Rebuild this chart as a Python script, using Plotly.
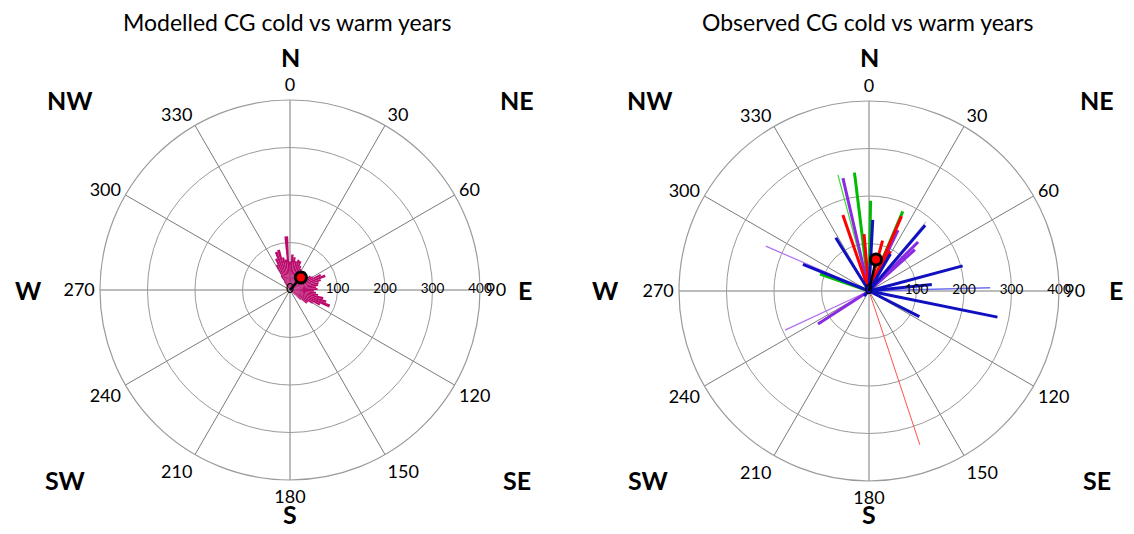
import plotly.graph_objects as go

# ---------------- data ----------------
TITLES = ["Modelled CG cold vs warm years", "Observed CG cold vs warm years"]
ANGLE_TICKS = list(range(0, 360, 30))
RADIAL_TICKS = [0, 100, 200, 300, 400]
COMPASS = ["N", "NE", "E", "SE", "S", "SW", "W", "NW"]

# Modelled: direction histogram (degrees, counts)
mod_theta = [324, 328, 332, 336, 340, 344, 348, 352, 356, 0, 4, 8, 12, 16, 20, 24, 28, 32, 36,
             40, 44, 48, 52, 56, 60, 64, 68, 72, 76, 80, 84, 88, 92, 96, 100, 104, 108, 112,
             116, 120, 124, 128, 132, 136]
mod_r = [20, 35, 60, 72, 85, 88, 70, 65, 113, 60, 75, 70, 62, 66, 64, 55, 50, 45, 48,
         50, 40, 38, 45, 52, 55, 72, 80, 68, 62, 60, 55, 58, 50, 55, 60, 72, 80, 90,
         70, 55, 45, 45, 30, 15]
mod_mean_theta = [41]
mod_mean_r = [35]

# Observed: individual vectors grouped by style
obs_blue_theta = [328, 3, 40.5, 75, 84, 101.5, 117, 292, 225, 30]
obs_blue_r = [132, 150, 182, 204, 133, 276, 119, 150, 15, 90]
obs_red_theta = [341, 23.5, 15, 28, 355]
obs_red_r = [169, 172, 110, 95, 120]
obs_green_theta = [353, 1, 23, 289]
obs_green_r = [251, 190, 182, 109]
obs_purple_theta = [347, 25.5, 45, 48, 237]
obs_purple_r = [244, 142, 146, 130, 128]
obs_lightgreen_theta = [345]
obs_lightgreen_r = [253]
obs_lightpurple_theta = [293.5, 245]
obs_lightpurple_r = [237, 195]
obs_lightred_theta = [161.7]
obs_lightred_r = [341]
obs_lightblue_theta = [88.5]
obs_lightblue_r = [255]
obs_gray_theta = [39.5]
obs_gray_r = [189]
obs_mean_theta = [12.5]
obs_mean_r = [68]

# ---------------- figure ----------------
FONT = "Lato, 'Open Sans', sans-serif"
fig = go.Figure()


def spokes(theta, r):
    tt, rr = [], []
    for t, v in zip(theta, r):
        tt += [t, t, None]
        rr += [0, v, None]
    return tt, rr


def add_mean(subplot, theta, r):
    tt, rr = spokes(theta, r)
    fig.add_trace(go.Scatterpolar(theta=tt, r=rr, mode="lines", subplot=subplot,
                                  line=dict(color="black", width=2.5), showlegend=False,
                                  hoverinfo="skip"))
    fig.add_trace(go.Scatterpolar(theta=theta, r=r, mode="markers", subplot=subplot,
                                  marker=dict(color="red", size=11,
                                              line=dict(color="black", width=3)),
                                  showlegend=False))


def add_radial_labels(subplot):
    fig.add_trace(go.Scatterpolar(theta=[90] * len(RADIAL_TICKS), r=RADIAL_TICKS,
                                  mode="text", text=[str(v) for v in RADIAL_TICKS],
                                  textposition="middle center", subplot=subplot,
                                  textfont=dict(family=FONT, size=13.5, color="black"),
                                  showlegend=False, hoverinfo="skip"))


# Modelled
fig.add_trace(go.Barpolar(theta=mod_theta, r=mod_r, width=[4] * len(mod_theta),
                          marker=dict(color="#BA0A6C", line=dict(width=0)),
                          subplot="polar", showlegend=False))
add_radial_labels("polar")
add_mean("polar", mod_mean_theta, mod_mean_r)

# Observed
groups = [
    (obs_lightgreen_theta, obs_lightgreen_r, "#33DD33", 1.2),
    (obs_lightpurple_theta, obs_lightpurple_r, "#B070F0", 1.2),
    (obs_lightred_theta, obs_lightred_r, "#FF5050", 1.0),
    (obs_lightblue_theta, obs_lightblue_r, "#7070F0", 1.5),
    (obs_gray_theta, obs_gray_r, "#C8C8C8", 1.2),
    (obs_green_theta, obs_green_r, "#00BB00", 3),
    (obs_purple_theta, obs_purple_r, "#8A2BE2", 3),
    (obs_red_theta, obs_red_r, "#FF0000", 3),
    (obs_blue_theta, obs_blue_r, "#1010C0", 3),
]
for th, rv, col, w in groups:
    tt, rr = spokes(th, rv)
    fig.add_trace(go.Scatterpolar(theta=tt, r=rr, mode="lines", subplot="polar2",
                                  line=dict(color=col, width=w), showlegend=False))
add_radial_labels("polar2")
add_mean("polar2", obs_mean_theta, obs_mean_r)

# page body has an 8px margin; keep the figure inside the window (no scrollbars)
OFF = 8
W, H = 1118, 518
R = 190


def px(x):
    return (x - OFF) / W


def py(y):
    return 1 - (y - OFF) / H


def polar_layout(cx, cy):
    return dict(
        domain=dict(x=[px(cx - R), px(cx + R)], y=[py(cy + R), py(cy - R)]),
        bgcolor="white",
        angularaxis=dict(direction="clockwise", rotation=90, tickmode="array",
                         tickvals=ANGLE_TICKS, ticktext=[str(a) for a in ANGLE_TICKS],
                         showline=True, linecolor="#9a9a9a", linewidth=1.2,
                         gridcolor="#7a7a7a", gridwidth=1.2,
                         ticks="outside", ticklen=1, tickcolor="rgba(0,0,0,0)",
                         tickfont=dict(family=FONT, size=18, color="black")),
        radialaxis=dict(range=[0, 400], tickvals=[100, 200, 300], showticklabels=False,
                        showline=False, ticks="", gridcolor="#9a9a9a", gridwidth=1.2),
    )


centers = [(290, 290), (869, 291)]
title_pos = [(287, 22), (868, 22)]
compass_pos = [
    [(290, 57), (517, 100), (525, 290), (517, 480), (290, 514), (65, 480), (28, 290), (70, 100)],
    [(869, 57), (1097, 100), (1116, 290), (1097, 480), (869, 514), (648, 480), (605, 290), (650, 100)],
]

fig.update_layout(
    width=W, height=H, margin=dict(l=0, r=0, t=0, b=0),
    paper_bgcolor="white", plot_bgcolor="white",
    polar=polar_layout(*centers[0]), polar2=polar_layout(*centers[1]),
    showlegend=False, font=dict(family=FONT, color="black"),
)

annots = []
for (tx, ty), title, cpos in zip(title_pos, TITLES, compass_pos):
    annots.append(dict(text=title, x=px(tx), y=py(ty), xref="paper", yref="paper",
                       xanchor="center", yanchor="middle", showarrow=False,
                       font=dict(size=23, family=FONT, color="black")))
    for lab, (ax_, ay_) in zip(COMPASS, cpos):
        annots.append(dict(text="<b>%s</b>" % lab, x=px(ax_), y=py(ay_),
                           xref="paper", yref="paper", xanchor="center", yanchor="middle",
                           showarrow=False, font=dict(size=25, family=FONT, color="black")))
fig.update_layout(annotations=annots)

fig.write_html("out.html")
